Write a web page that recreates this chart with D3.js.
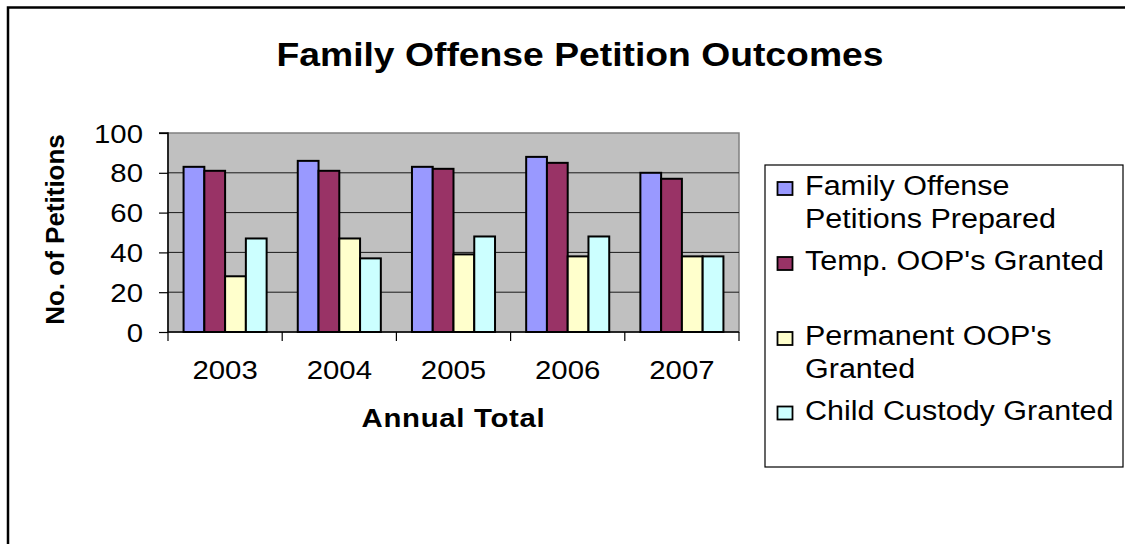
<!DOCTYPE html>
<html>
<head>
<meta charset="utf-8">
<script src="https://cdn.jsdelivr.net/npm/d3@7/dist/d3.min.js"></script>
<style>
  html, body { margin: 0; padding: 0; background: #fff; }
  svg { display: block; font-family: "Liberation Sans", Arial, sans-serif; }
</style>
</head>
<body>
<svg id="chart" width="1125" height="544"></svg>
<script>
// ---- data ----
const title = "Family Offense Petition Outcomes";
const xTitle = "Annual Total";
const yTitle = "No. of Petitions";
const years = ["2003", "2004", "2005", "2006", "2007"];
const seriesNames = ["Family Offense Petitions Prepared", "Temp. OOP's Granted", "Permanent OOP's Granted", "Child Custody Granted"];
const legendLines = [["Family Offense", "Petitions Prepared"], ["Temp. OOP's Granted"], ["Permanent OOP's", "Granted"], ["Child Custody Granted"]];
const petitionsPrepared = [83, 86, 83, 88, 80];
const tempGranted       = [81, 81, 82, 85, 77];
const permanentGranted  = [28, 47, 39, 38, 38];
const custodyGranted    = [47, 37, 48, 48, 38];
const yTicks = [0, 20, 40, 60, 80, 100];
const colors = ["#9999FF", "#993366", "#FFFFCC", "#CCFFFF"];

const seriesValues = [petitionsPrepared, tempGranted, permanentGranted, custodyGranted];
const table = years.map((yr, i) => ({ year: yr, values: seriesValues.map((s, k) => ({ k, v: s[i] })) }));

const svg = d3.select("#chart");
const SX = 1.13; // horizontal stretch of the original rendering

function stretchedText(g, x, y, txt, opts) {
  const t = g.append("text")
    .attr("transform", `translate(${x},${y}) scale(${SX},1)`)
    .attr("text-anchor", opts.anchor || "start")
    .attr("font-size", opts.size)
    .attr("font-weight", opts.weight || "normal")
    .attr("fill", "#000")
    .text(txt);
  return t;
}

// outer chart border
svg.append("rect")
  .attr("x", 8).attr("y", 7.5).attr("width", 1140).attr("height", 560)
  .attr("fill", "#fff").attr("stroke", "#000").attr("stroke-width", 2.5);

// scales
const x0 = d3.scaleBand().domain(years).range([168, 739]).paddingInner(0).paddingOuter(0);
const groupW = x0.bandwidth() * 4 / 5.5;
const x1 = d3.scaleBand().domain(d3.range(4)).range([0, groupW]);
const y = d3.scaleLinear().domain([0, 100]).range([332, 133]);

// plot area
svg.append("rect")
  .attr("x", x0.range()[0]).attr("y", y(100))
  .attr("width", x0.range()[1] - x0.range()[0]).attr("height", y(0) - y(100))
  .attr("fill", "#C0C0C0").attr("stroke", "#808080").attr("stroke-width", 1.5);

// gridlines
svg.append("g").selectAll("line")
  .data(yTicks.filter(d => d > 0 && d < 100))
  .join("line")
  .attr("x1", x0.range()[0]).attr("x2", x0.range()[1])
  .attr("y1", d => y(d)).attr("y2", d => y(d))
  .attr("stroke", "#1a1a1a").attr("stroke-width", 1);

// bars
const groups = svg.append("g").selectAll("g")
  .data(table)
  .join("g")
  .attr("transform", d => `translate(${x0(d.year) + (x0.bandwidth() - groupW) / 2},0)`);
groups.selectAll("rect")
  .data(d => d.values)
  .join("rect")
  .attr("x", d => x1(d.k))
  .attr("width", x1.bandwidth())
  .attr("y", d => y(d.v))
  .attr("height", d => y(0) - y(d.v))
  .attr("fill", d => colors[d.k])
  .attr("stroke", "#000").attr("stroke-width", 2);

// y axis
const yAxis = d3.axisLeft(y).tickValues(yTicks).tickSize(9).tickPadding(16).tickFormat(d3.format("d"));
const yg = svg.append("g").attr("transform", `translate(${x0.range()[0]},0)`).call(yAxis);
yg.select(".domain").attr("stroke", "#000").attr("stroke-width", 1.5).attr("d", `M-9,${y(100)}H0V${y(0)}`);
yg.selectAll(".tick line").attr("stroke", "#000").attr("stroke-width", 1.2);
yg.selectAll(".tick text").remove();
yg.selectAll(".tick").each(function(d) {
  stretchedText(d3.select(this), -25, 9, d3.format("d")(d), { size: 26, anchor: "end" });
});

// x axis
const xAxis = d3.axisBottom(x0).tickSize(0).tickPadding(0);
const xg = svg.append("g").attr("transform", `translate(0,${y(0)})`).call(xAxis);
xg.select(".domain").attr("stroke", "#000").attr("stroke-width", 1.5).attr("d", `M${x0.range()[0]},0H${x0.range()[1]}`);
xg.selectAll(".tick text").remove();
xg.selectAll(".tick").each(function(d) {
  stretchedText(d3.select(this), 0, 47, d, { size: 26, anchor: "middle" });
});
// category boundary ticks
const bounds = years.map(d => x0(d)).concat([x0.range()[1]]);
xg.append("g").selectAll("line").data(bounds).join("line")
  .attr("x1", d => d).attr("x2", d => d).attr("y1", 0).attr("y2", 9)
  .attr("stroke", "#000").attr("stroke-width", 1.2);

// titles
stretchedText(svg, 580, 66, title, { size: 33, weight: "bold", anchor: "middle" });
stretchedText(svg, (x0.range()[0] + x0.range()[1]) / 2, 427, xTitle, { size: 26, weight: "bold", anchor: "middle" })
  .attr("letter-spacing", 0.6);
svg.append("text")
  .attr("transform", `translate(63.5,${(y(0) + y(100)) / 2 - 3}) rotate(-90)`)
  .attr("text-anchor", "middle")
  .attr("font-size", 26).attr("font-weight", "bold")
  .text(yTitle);

// legend
const lg = svg.append("g");
lg.append("rect")
  .attr("x", 765).attr("y", 165).attr("width", 358).attr("height", 302)
  .attr("fill", "#fff").attr("stroke", "#000").attr("stroke-width", 1.2);
const legendBaselines = [195, 270, 345, 419.5];
const lineH = 32.5;
seriesNames.forEach((name, k) => {
  const b = legendBaselines[k];
  lg.append("rect")
    .attr("x", 777.5).attr("y", b - 13).attr("width", 15).attr("height", 13)
    .attr("fill", colors[k]).attr("stroke", "#000").attr("stroke-width", 1.8);
  legendLines[k].forEach((ln, j) => {
    stretchedText(lg, 805, b + j * lineH, ln, { size: 27 });
  });
});
</script>
</body>
</html>
